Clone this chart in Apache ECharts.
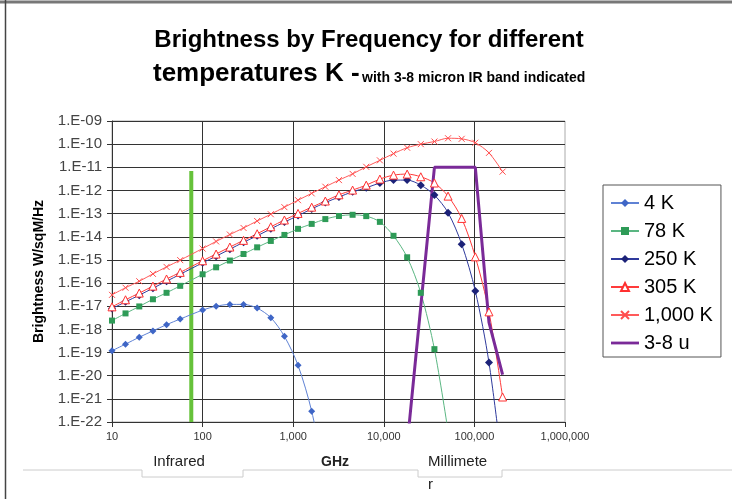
<!DOCTYPE html>
<html>
<head>
<meta charset="utf-8">
<script src="https://cdn.jsdelivr.net/npm/echarts@6/dist/echarts.min.js"></script>
<style>
  html, body { margin: 0; padding: 0; background: #fff; }
  #chart { width: 732px; height: 499px; }
</style>
</head>
<body>
<div id="chart"></div>
<script>
  // frequency points (GHz) used by the temperature curves
  var freqGHz = [10, 14.1, 20, 28.3, 40, 56.6, 100, 141, 200, 283, 400, 566, 800, 1131, 1600, 2263,
    3200, 4525, 6400, 9051, 12800, 18102, 25600, 36204, 51200, 72408, 102400, 144815, 204800]

  // brightness W/sqM/Hz
  var k4 = [1.2e-19, 2.3e-19, 4.6e-19, 8.6e-19, 1.6e-18, 2.8e-18, 6.8e-18, 1.0e-17, 1.2e-17, 1.2e-17,
    8.3e-18, 3.2e-18, 5.0e-19, 2.8e-20, 2.9e-22, 3e-25]
  var k78 = [2.4e-18, 4.9e-18, 9.8e-18, 2.0e-17, 3.8e-17, 7.6e-17, 2.4e-16, 4.8e-16, 9.4e-16, 1.8e-15,
    3.5e-15, 6.6e-15, 1.2e-14, 2.2e-14, 3.6e-14, 5.8e-14, 7.9e-14, 8.9e-14, 7.8e-14, 4.4e-14,
    1.1e-14, 1.3e-15, 3.8e-17, 1.4e-19, 4e-23]
  var k250 = [7.9e-18, 1.55e-17, 3.0e-17, 6.0e-17, 1.2e-16, 2.4e-16, 7.5e-16, 1.45e-15, 2.9e-15, 5.8e-15,
    1.1e-14, 2.2e-14, 4.3e-14, 8.2e-14, 1.6e-13, 3.0e-13, 5.2e-13, 8.8e-13, 1.3e-12, 2.1e-12,
    2.8e-12, 2.8e-12, 1.7e-12, 6.3e-13, 1.1e-13, 4.8e-15, 4.5e-17, 3.7e-20, 1e-24]
  var k305 = [9.4e-18, 1.9e-17, 3.7e-17, 7.4e-17, 1.5e-16, 2.9e-16, 9.2e-16, 1.8e-15, 3.6e-15, 7.0e-15,
    1.35e-14, 2.7e-14, 5.3e-14, 1.02e-13, 1.9e-13, 3.5e-13, 6.5e-13, 1.04e-12, 1.7e-12, 3.1e-12,
    4.6e-12, 5.1e-12, 3.9e-12, 2.1e-12, 5.7e-13, 6.2e-14, 1.36e-15, 5.7e-18, 1.2e-21]
  var k1000 = [3.1e-17, 6.3e-17, 1.2e-16, 2.5e-16, 5.0e-16, 9.8e-16, 3.1e-15, 6.3e-15, 1.25e-14, 2.4e-14,
    4.8e-14, 9.4e-14, 1.9e-13, 3.8e-13, 7.5e-13, 1.45e-12, 2.8e-12, 5.2e-12, 1.05e-11, 2.0e-11,
    3.9e-11, 7.0e-11, 1.0e-10, 1.3e-10, 1.8e-10, 1.7e-10, 1.15e-10, 4.2e-11, 6.5e-12]

  // 3-8 micron band outline
  var bandFreq = [18102, 36204, 102400, 144815, 204800]
  var bandVal = [1e-23, 1e-11, 1e-11, 2e-18, 1.1e-20]

  // green marker line
  var irLineFreq = [75, 75]
  var irLineVal = [7e-12, 1e-22]

  // y tick values (one per decade)
  var yTickValues = [1e-22, 1e-21, 1e-20, 1e-19, 1e-18, 1e-17, 1e-16, 1e-15, 1e-14, 1e-13, 1e-12, 1e-11, 1e-10, 1e-9]

  var seriesNames = ['4 K', '78 K', '250 K', '305 K', '1,000 K', '3-8 u']

  function pairs(xs, ys) {
    var out = []
    ys.forEach(function (y, i) { out.push([xs[i], y]) })
    return out
  }

  var FONT = '"Liberation Sans", Arial, sans-serif'
  var chart = echarts.init(document.getElementById('chart'))

  chart.setOption({
    animation: false,
    backgroundColor: '#fff',
    grid: {
      left: 112, top: 121, width: 453, height: 301,
      outerBoundsMode: 'none',
      show: true, borderColor: '#aaa', borderWidth: 1
    },
    legend: {
      data: seriesNames.map(function (n) {
        return n === '3-8 u' ? { name: n, icon: 'path://M0,0H30V3H0Z' } : { name: n }
      }),
      orient: 'vertical',
      left: 603,
      top: 185,
      padding: [8, 8, 4, 7],
      itemGap: 8,
      itemWidth: 28,
      itemHeight: 10,
      borderColor: '#555',
      borderWidth: 1,
      textStyle: { fontFamily: FONT, fontSize: 20, color: '#000' }
    },
    xAxis: {
      type: 'log',
      logBase: 10,
      min: 10,
      max: 1000000,
      splitNumber: 5,
      axisLine: { lineStyle: { color: '#333' } },
      axisTick: { length: 5, lineStyle: { color: '#333' } },
      axisLabel: {
        margin: 9,
        showMinLabel: true,
        showMaxLabel: true,
        fontFamily: FONT,
        fontSize: 11,
        color: '#333',
        formatter: function (v) {
          return Math.round(v).toString().replace(/\B(?=(\d{3})+(?!\d))/g, ',')
        }
      },
      splitLine: { show: true, showMaxLine: false, lineStyle: { color: '#333', width: 1 } }
    },
    yAxis: {
      type: 'log',
      logBase: 10,
      min: 1e-22,
      max: 1e-9,
      interval: 1,
      name: 'Brightness W/sqM/Hz',
      nameLocation: 'middle',
      nameRotate: 90,
      nameGap: 66,
      nameMoveOverlap: false,
      nameTextStyle: { fontFamily: FONT, fontSize: 14, fontWeight: 'bold', color: '#000' },
      axisLine: { show: true, lineStyle: { color: '#333' } },
      axisTick: { show: true, length: 5, customValues: yTickValues, lineStyle: { color: '#333' } },
      axisLabel: {
        margin: 10,
        customValues: yTickValues,
        fontFamily: FONT,
        fontSize: 15,
        color: '#444',
        formatter: function (v) {
          var e = Math.round(Math.log10(v))
          var a = Math.abs(e)
          return '1.E' + (e < 0 ? '-' : '+') + (a < 10 ? '0' : '') + a
        }
      },
      splitLine: { show: true, lineStyle: { color: '#333', width: 1 } }
    },
    graphic: [
      { type: 'line', shape: { x1: 0, y1: 2, x2: 732, y2: 2 }, style: { stroke: '#777', lineWidth: 3 } },
      { type: 'line', shape: { x1: 5.5, y1: 0, x2: 5.5, y2: 499 }, style: { stroke: '#444', lineWidth: 1.5 } },
      {
        type: 'text', x: 369, y: 40,
        style: { text: 'Brightness by Frequency for different', font: 'bold 24px ' + FONT, fill: '#000', align: 'center', verticalAlign: 'middle' }
      },
      {
        type: 'text', x: 153, y: 87,
        style: { text: 'temperatures K -', font: 'bold 26px ' + FONT, fill: '#000', align: 'left', verticalAlign: 'bottom' }
      },
      {
        type: 'text', x: 362, y: 85,
        style: { text: 'with 3-8 micron IR band indicated', font: 'bold 14px ' + FONT, fill: '#000', align: 'left', verticalAlign: 'bottom' }
      },
      {
        type: 'polyline',
        shape: { points: [[23, 470], [142, 470], [142, 477], [243, 477], [243, 470], [418, 470], [418, 477], [502, 477], [502, 470], [732, 470]] },
        style: { stroke: '#ccc', lineWidth: 1, fill: null }
      },
      { type: 'text', x: 179, y: 462, style: { text: 'Infrared', font: '15px ' + FONT, fill: '#222', align: 'center', verticalAlign: 'middle' } },
      { type: 'text', x: 335, y: 462, style: { text: 'GHz', font: 'bold 14px ' + FONT, fill: '#222', align: 'center', verticalAlign: 'middle' } },
      { type: 'text', x: 428, y: 462, style: { text: 'Millimete', font: '15px ' + FONT, fill: '#222', align: 'left', verticalAlign: 'middle' } },
      { type: 'text', x: 428, y: 485, style: { text: 'r', font: '15px ' + FONT, fill: '#222', align: 'left', verticalAlign: 'middle' } }
    ],
    series: [
      {
        name: '4 K', type: 'line', smooth: 0.3,
        data: pairs(freqGHz, k4),
        symbol: 'diamond', symbolSize: 7,
        itemStyle: { color: '#3f66c6' },
        lineStyle: { color: '#5f82d4', width: 1 }
      },
      {
        name: '78 K', type: 'line', smooth: 0.3,
        data: pairs(freqGHz, k78),
        symbol: 'rect', symbolSize: 6,
        itemStyle: { color: '#2e9b57' },
        lineStyle: { color: '#5ab682', width: 1 }
      },
      {
        name: '250 K', type: 'line', smooth: 0.3,
        data: pairs(freqGHz, k250),
        symbol: 'diamond', symbolSize: 8,
        itemStyle: { color: '#1c2278' },
        lineStyle: { color: '#2f3a9c', width: 1 }
      },
      {
        name: '305 K', type: 'line', smooth: 0.3,
        data: pairs(freqGHz, k305),
        symbol: 'triangle', symbolSize: 8,
        itemStyle: { color: '#fff', borderColor: '#ff3030', borderWidth: 1 },
        lineStyle: { color: '#ff3b3b', width: 1 }
      },
      {
        name: '1,000 K', type: 'line', smooth: 0.3,
        data: pairs(freqGHz, k1000),
        symbol: 'path://M0,0L10,10M10,0L0,10', symbolSize: 6,
        itemStyle: { color: '#ff4d4d', borderColor: '#ff4d4d', borderWidth: 1 },
        lineStyle: { color: '#ff5a5a', width: 1 }
      },
      {
        name: '3-8 u', type: 'line',
        data: pairs(bandFreq, bandVal),
        symbol: 'none',
        itemStyle: { color: '#7a2a98' },
        lineStyle: { color: '#7a2a98', width: 3 }
      },
      {
        name: 'ir', type: 'line', silent: true, z: 1,
        data: pairs(irLineFreq, irLineVal),
        symbol: 'none',
        lineStyle: { color: '#66c23a', width: 4 }
      }
    ]
  })
</script>
</body>
</html>
